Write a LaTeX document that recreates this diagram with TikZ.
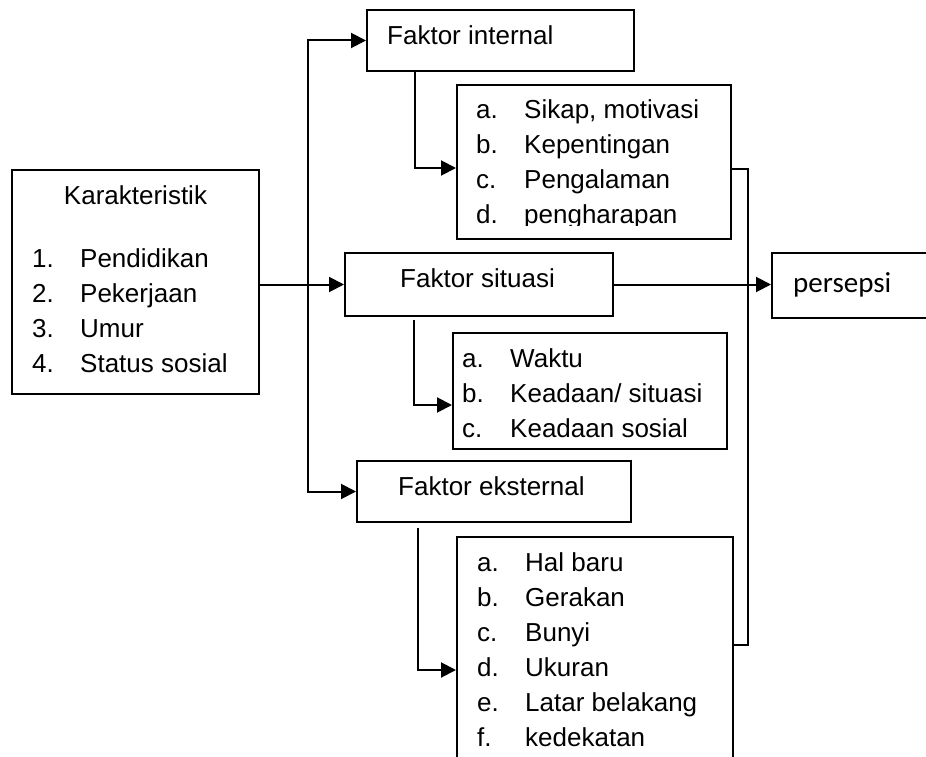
\documentclass[tikz,border=0pt]{standalone}
\usepackage{fontspec}
\setmainfont{Liberation Sans}
\newfontfamily\calibri{Carlito}
\usetikzlibrary{arrows.meta,calc}

\begin{document}
\begin{tikzpicture}[x=1pt,y=-1pt,
    box/.style={draw,line width=2pt,rectangle,inner sep=0pt,anchor=north west},
    txt/.style={inner sep=0pt,anchor=base west,font=\fontsize{26}{35}\selectfont},
    arr/.style={line width=2pt,-{Triangle[length=15pt,width=15pt]}},
    line/.style={line width=2pt}]
  \clip (0,0) rectangle (926,757);
  % boxes
  \node[box,minimum width=247pt,minimum height=224pt] (kar) at (11,169) {};
  \node[box,minimum width=267pt,minimum height=61pt] (fint) at (366,9) {};
  \node[box,minimum width=274pt,minimum height=154pt] (ilist) at (456,84) {};
  \node[box,minimum width=268pt,minimum height=63pt] (sit) at (344,252) {};
  \node[box,minimum width=200pt,minimum height=65pt] (pers) at (771,252) {};
  \node[box,minimum width=274pt,minimum height=116pt] (slist) at (452,332) {};
  \node[box,minimum width=274pt,minimum height=61pt] (fext) at (356,460) {};
  \node[box,minimum width=276pt,minimum height=260pt] (elist) at (456,536) {};
  % texts
  \node[txt,anchor=base] (kartitle) at ($(kar.north)+(0,35)$) {Karakteristik};
  \node[txt] (kartext) at ($(kar.north west)+(21,98)$) {\begin{tabular}[t]{@{}p{48pt}@{}l@{}}
    1. & Pendidikan\\ 2. & Pekerjaan\\ 3. & Umur\\ 4. & Status sosial\end{tabular}};
  \node[txt] (finttext) at ($(fint.north west)+(21,36)$) {Faktor internal};
  \begin{scope}
    \clip (ilist.north west) rectangle ($(ilist.north east)+(0,141)$);
    \node[txt] (ilisttext) at ($(ilist.north west)+(20,35)$) {\begin{tabular}[t]{@{}p{48pt}@{}l@{}}
      a. & Sikap, motivasi\\ b. & Kepentingan\\ c. & Pengalaman\\ d. & pengharapan\end{tabular}};
  \end{scope}
  \node[txt] (sittext) at ($(sit.north west)+(56,35)$) {Faktor situasi};
  \node[txt,font=\calibri\fontsize{29}{35}\selectfont] (perstext) at ($(pers.north west)+(22,40)$) {persepsi};
  \begin{scope}
    \clip (slist.north west) rectangle ($(slist.north east)+(0,106)$);
    \node[txt] (slisttext) at ($(slist.north west)+(10,35)$) {\begin{tabular}[t]{@{}p{48pt}@{}l@{}}
      a. & Waktu\\ b. & Keadaan/ situasi\\ c. & Keadaan sosial\end{tabular}};
  \end{scope}
  \node[txt] (fexttext) at ($(fext.north west)+(42,35)$) {Faktor eksternal};
  \node[txt] (elisttext) at ($(elist.north west)+(21,35)$) {\begin{tabular}[t]{@{}p{48pt}@{}l@{}}
    a. & Hal baru\\ b. & Gerakan\\ c. & Bunyi\\ d. & Ukuran\\ e. & Latar belakang\\ f. & kedekatan\end{tabular}};
  % connectors
  \coordinate (fork) at (308,283.5);
  \draw[arr] (kar.east |- sit.west) -- (sit.west);
  \draw[arr] (fork) |- (fint.west);
  \draw[arr] (fork) |- (fext.west);
  \draw[arr] ($(fint.south west)+(49,0)$) |- ($(ilist.west)+(0,6)$);
  \draw[arr] ($(sit.south west)+(70,3)$) |- ($(slist.west)+(0,14)$);
  \draw[arr] ($(fext.south west)+(62,5)$) |- ($(elist.north west)+(0,134)$);
  \draw[line] ($(ilist.east)+(0,7)$) -- ++(16,0) |- ($(elist.north east)+(0,109)$);
  \draw[arr] (sit.east) -- (sit.east -| pers.west);
\end{tikzpicture}
\end{document}
